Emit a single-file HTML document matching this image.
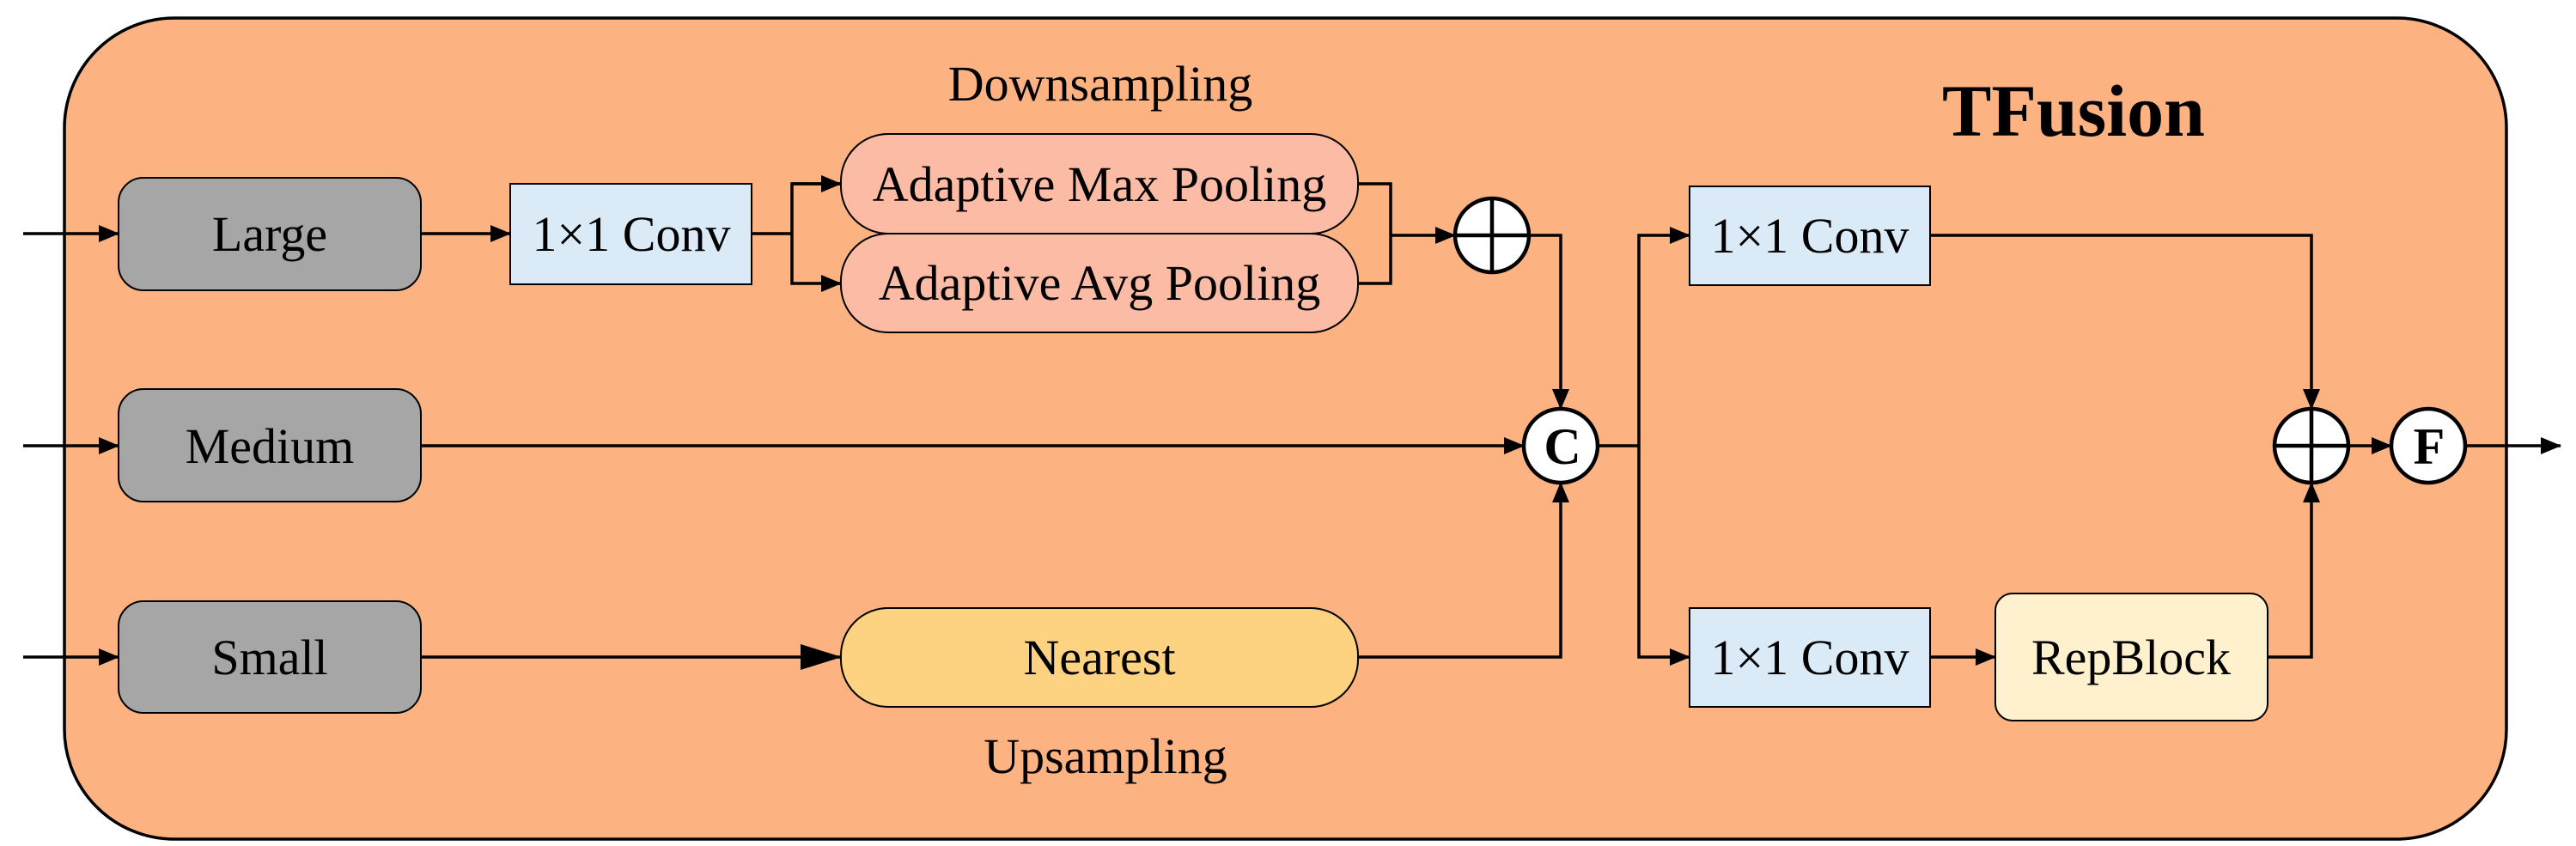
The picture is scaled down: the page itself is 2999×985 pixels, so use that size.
<!DOCTYPE html>
<html><head><meta charset="utf-8"><style>
html,body{margin:0;padding:0;background:#fff;}
svg{display:block;font-family:"Liberation Serif","DejaVu Serif",serif;}
svg text{font-family:"Liberation Serif","DejaVu Serif",serif;}
</style></head><body>
<svg width="2999" height="985" viewBox="0 0 2999 985" xmlns="http://www.w3.org/2000/svg" font-family="Liberation Serif, DejaVu Serif, serif">
<defs>
<marker id="a" markerWidth="24" markerHeight="20" refX="23" refY="10" orient="auto" markerUnits="userSpaceOnUse"><path d="M0,0 L24,10 L0,20 Z" fill="#000"/></marker>
<marker id="b" markerWidth="48" markerHeight="30" refX="47" refY="15" orient="auto" markerUnits="userSpaceOnUse"><path d="M0,0 L48,15 L0,30 Z" fill="#000"/></marker>
</defs>
<rect x="75" y="21" width="2843" height="956" rx="128" fill="#FDB282" stroke="#000" stroke-width="3.5"/>
<text x="2414" y="158" font-size="86" font-weight="bold" text-anchor="middle" font-family="Liberation Serif, DejaVu Serif, serif">TFusion</text>
<text x="1281" y="117" font-size="58" text-anchor="middle" font-family="Liberation Serif, DejaVu Serif, serif">Downsampling</text>
<text x="1287" y="900" font-size="58" text-anchor="middle" font-family="Liberation Serif, DejaVu Serif, serif">Upsampling</text>
<g stroke="#000" stroke-width="3.5" fill="none">
<line x1="27" y1="272" x2="138" y2="272" marker-end="url(#a)"/>
<line x1="27" y1="519" x2="138" y2="519" marker-end="url(#a)"/>
<line x1="27" y1="765" x2="138" y2="765" marker-end="url(#a)"/>
<line x1="490" y1="272" x2="594" y2="272" marker-end="url(#a)"/>
<line x1="875" y1="272" x2="922" y2="272"/>
<polyline points="979,214 922,214 922,330 979,330" marker-end="url(#a)"/>
<line x1="922" y1="214" x2="979" y2="214" marker-end="url(#a)"/>
<polyline points="1581,214 1619,214 1619,330 1581,330"/>
<line x1="1619" y1="274" x2="1694" y2="274" marker-end="url(#a)"/>
<polyline points="1780,274 1817,274 1817,476" marker-end="url(#a)"/>
<line x1="490" y1="519" x2="1774" y2="519" marker-end="url(#a)"/>
<line x1="490" y1="765" x2="979" y2="765" marker-end="url(#b)"/>
<polyline points="1581,765 1817,765 1817,562" marker-end="url(#a)"/>
<line x1="1860" y1="519" x2="1908" y2="519"/>
<polyline points="1908,519 1908,274 1967,274" marker-end="url(#a)"/>
<polyline points="1908,519 1908,765 1967,765" marker-end="url(#a)"/>
<polyline points="2247,274 2691,274 2691,476" marker-end="url(#a)"/>
<line x1="2247" y1="765" x2="2323" y2="765" marker-end="url(#a)"/>
<polyline points="2640,765 2691,765 2691,562" marker-end="url(#a)"/>
<line x1="2734" y1="519" x2="2784" y2="519" marker-end="url(#a)"/>
<line x1="2870" y1="519" x2="2981" y2="519" marker-end="url(#a)"/>
</g>
<g stroke="#000" stroke-width="2">
<rect x="138" y="207" width="352" height="131" rx="29" fill="#A6A6A6"/>
<rect x="138" y="453" width="352" height="131" rx="29" fill="#A6A6A6"/>
<rect x="138" y="700" width="352" height="130" rx="29" fill="#A6A6A6"/>
<rect x="594" y="214" width="281" height="117" fill="#DAEBF7"/>
<rect x="979" y="156" width="602" height="116" rx="55" fill="#FBBBA5"/>
<rect x="979" y="272" width="602" height="115" rx="55" fill="#FBBBA5"/>
<rect x="979" y="708" width="602" height="115" rx="55" fill="#FDD280"/>
<rect x="1967" y="217" width="280" height="115" fill="#DAEBF7"/>
<rect x="1967" y="708" width="280" height="115" fill="#DAEBF7"/>
<rect x="2323" y="691" width="317" height="148" rx="20" fill="#FFF1CD"/>
</g>
<g stroke="#000" stroke-width="4.5" fill="#fff">
<circle cx="1737" cy="274" r="43"/>
<line x1="1694" y1="274" x2="1780" y2="274"/><line x1="1737" y1="231" x2="1737" y2="317"/>
<circle cx="1817" cy="519" r="43"/>
<circle cx="2691" cy="519" r="43"/>
<line x1="2648" y1="519" x2="2734" y2="519"/><line x1="2691" y1="476" x2="2691" y2="562"/>
<circle cx="2827" cy="519" r="43"/>
</g>
<g font-size="58" text-anchor="middle" font-family="Liberation Serif, DejaVu Serif, serif">
<text x="314" y="292">Large</text>
<text x="314" y="539">Medium</text>
<text x="314" y="785">Small</text>
<text x="735" y="292">1×1 Conv</text>
<text x="1280" y="234">Adaptive Max Pooling</text>
<text x="1280" y="349">Adaptive Avg Pooling</text>
<text x="1280" y="785">Nearest</text>
<text x="2107" y="294">1×1 Conv</text>
<text x="2107" y="785">1×1 Conv</text>
<text x="2481" y="785">RepBlock</text>
</g>
<text x="1819" y="540" font-size="60" font-weight="bold" text-anchor="middle" font-family="Liberation Serif, DejaVu Serif, serif">C</text>
<text x="2828" y="540" font-size="60" font-weight="bold" text-anchor="middle" font-family="Liberation Serif, DejaVu Serif, serif">F</text>
</svg>
</body></html>
